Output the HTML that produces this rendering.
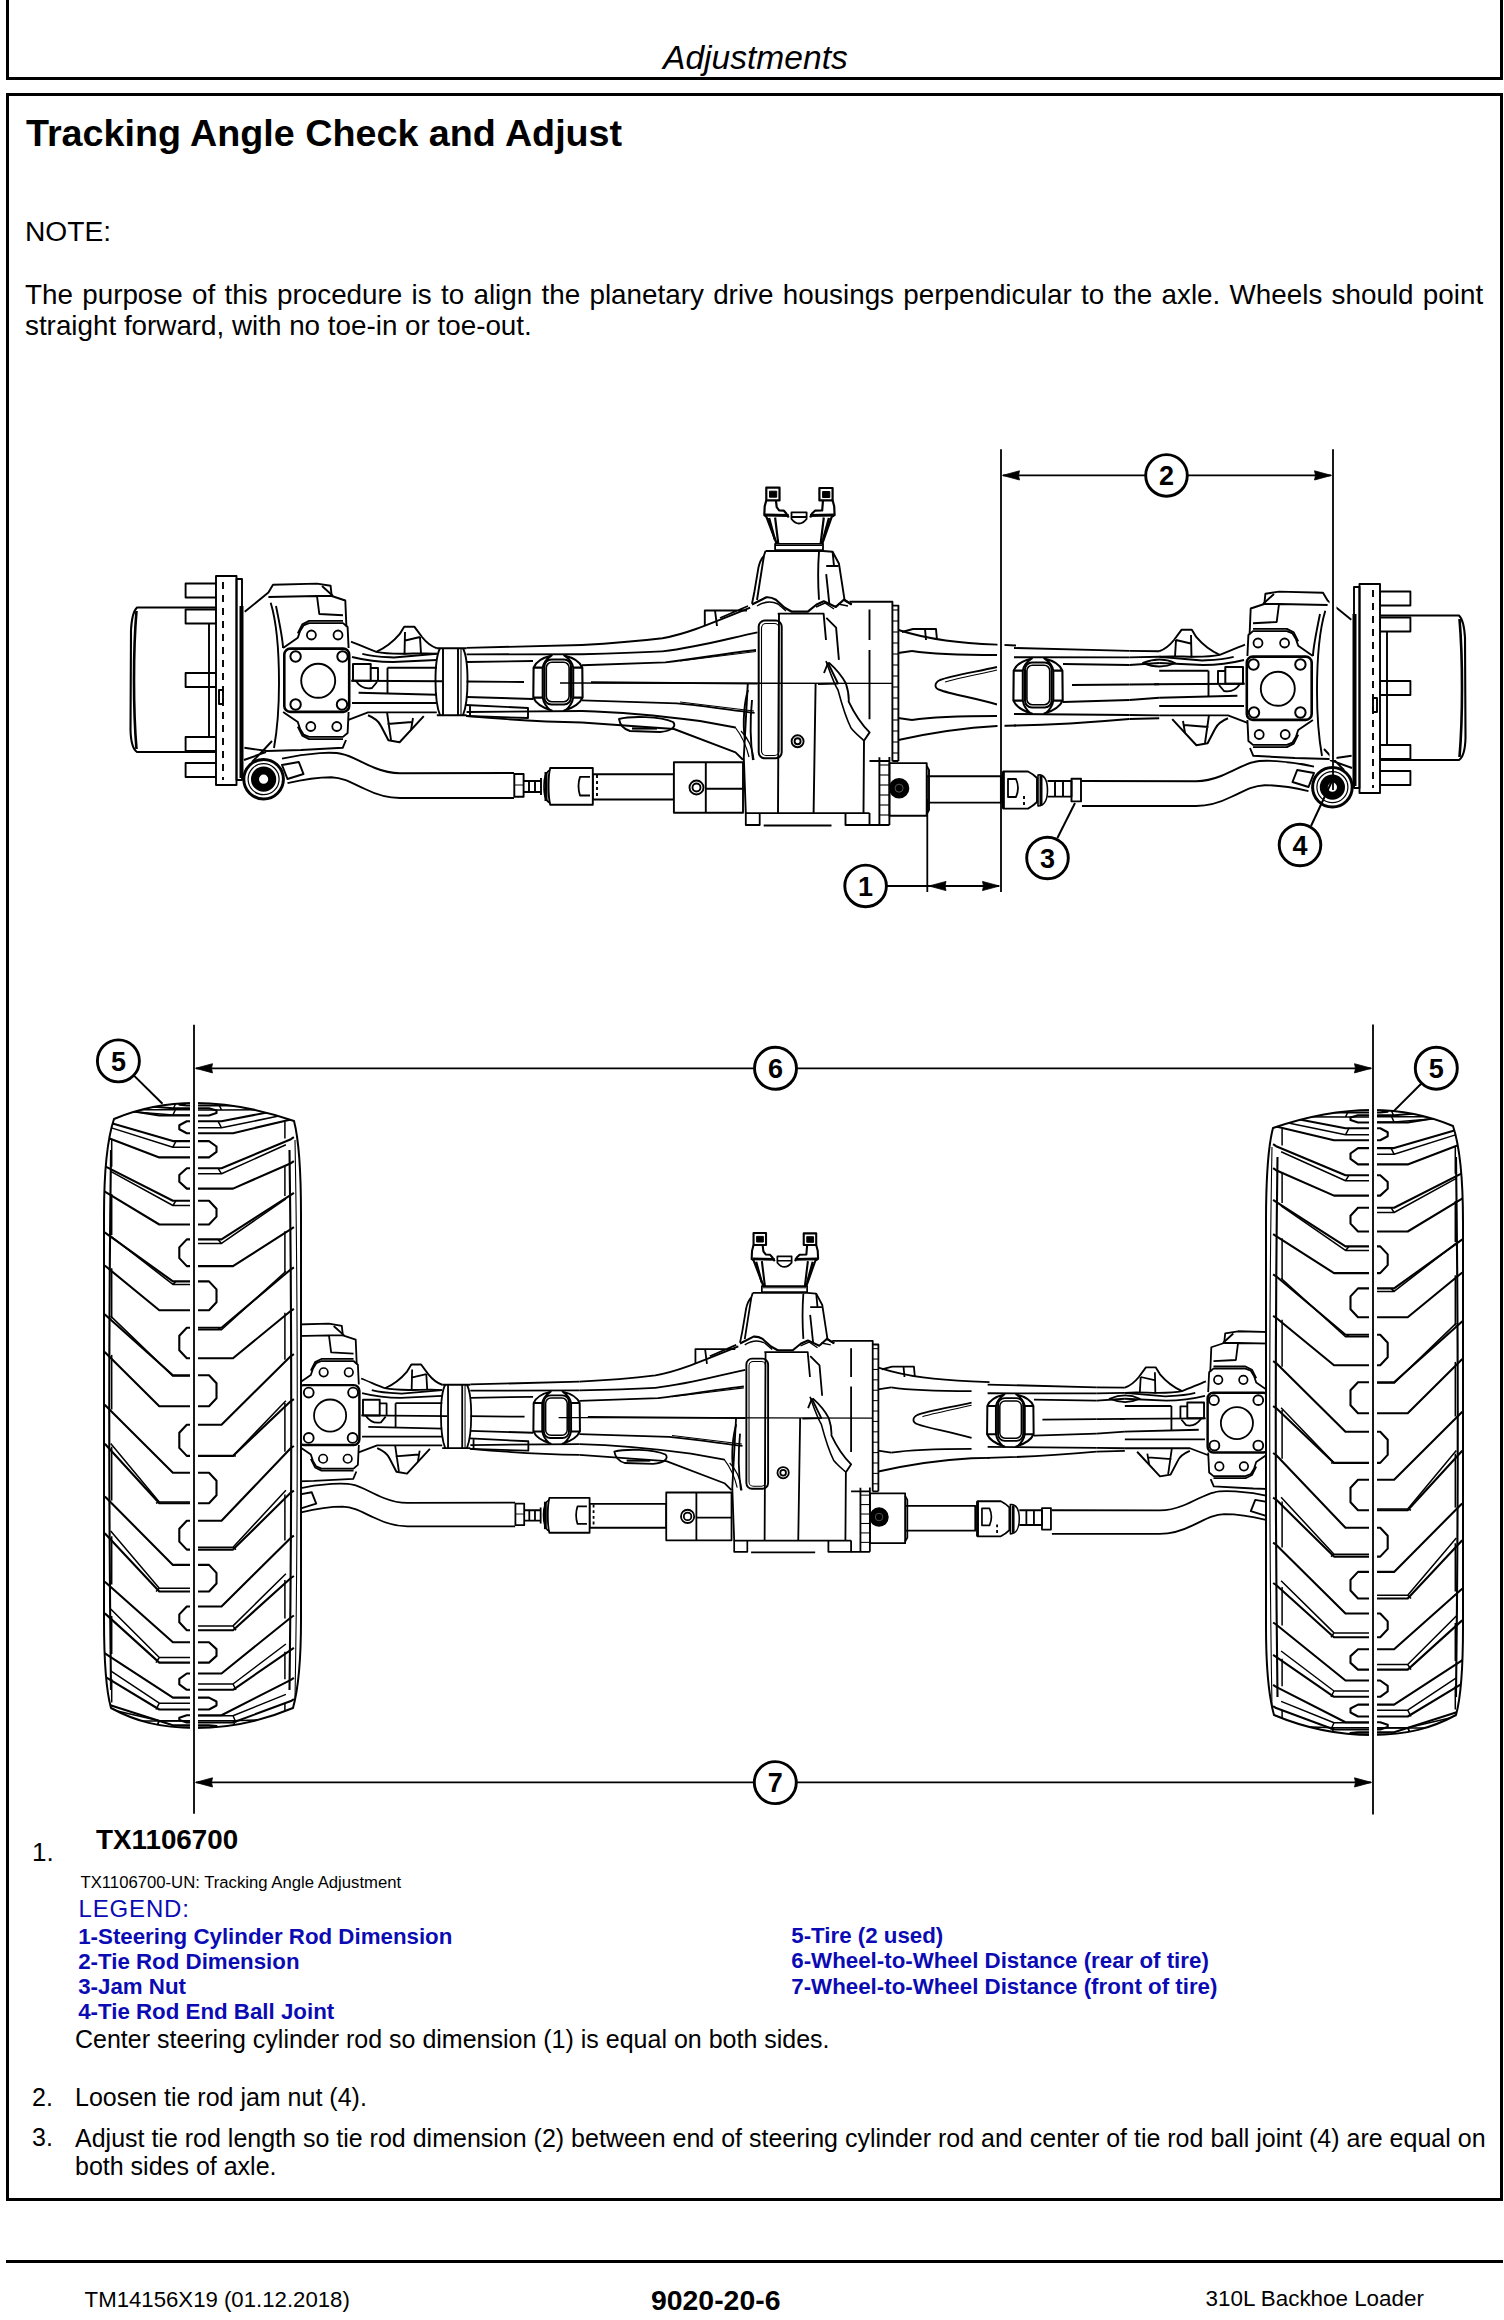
<!DOCTYPE html>
<html><head><meta charset="utf-8">
<style>
html,body{margin:0;padding:0;background:#fff;}
body{width:1504px;height:2320px;position:relative;overflow:hidden;font-family:"Liberation Sans",sans-serif;color:#000;}
.abs{position:absolute;white-space:nowrap;line-height:1;}
.hdr{position:absolute;left:6px;top:-10px;width:1491px;height:87px;border:3px solid #000;border-top:none;}
.box{position:absolute;left:6px;top:93px;width:1491px;height:2102px;border:3px solid #000;}
.fline{position:absolute;left:6px;top:2260px;width:1497px;height:3px;background:#000;}
.blue{color:#0b0bb4;}
svg{position:absolute;left:0;top:0;}
</style></head><body>
<div class="hdr"></div>
<div class="box"></div>
<div class="fline"></div>

<div class="abs" id="t-adj" style="left:663px;top:40.7px;font-size:33.6px;font-style:italic;">Adjustments</div>
<div class="abs" id="t-title" style="left:26px;top:114.6px;font-size:37.7px;font-weight:bold;">Tracking Angle Check and Adjust</div>
<div class="abs" id="t-note" style="left:25px;top:216.8px;font-size:28.2px;">NOTE:</div>
<div class="abs" id="t-p1" style="left:25px;top:280.6px;font-size:27.8px;word-spacing:1.6px;">The purpose of this procedure is to align the planetary drive housings perpendicular to the axle. Wheels should point</div>
<div class="abs" id="t-p2" style="left:25px;top:312.2px;font-size:27.8px;">straight forward, with no toe-in or toe-out.</div>

<div class="abs" id="t-1" style="left:32px;top:1838.8px;font-size:26px;">1.</div>
<div class="abs" id="t-tx" style="left:96px;top:1826.3px;font-size:27.8px;font-weight:bold;">TX1106700</div>
<div class="abs" id="t-cap" style="left:80.5px;top:1874.6px;font-size:16.7px;">TX1106700-UN: Tracking Angle Adjustment</div>
<div class="abs blue" id="t-leg" style="left:78.5px;top:1896.9px;font-size:24px;letter-spacing:0.85px;">LEGEND:</div>
<div class="abs blue" style="left:78.2px;top:1923.5px;font-size:22.3px;font-weight:bold;line-height:25.3px;">1-Steering Cylinder Rod Dimension<br>2-Tie Rod Dimension<br>3-Jam Nut<br>4-Tie Rod End Ball Joint</div>
<div class="abs blue" style="left:791.3px;top:1923px;font-size:22.3px;font-weight:bold;line-height:25.3px;">5-Tire (2 used)<br>6-Wheel-to-Wheel Distance (rear of tire)<br>7-Wheel-to-Wheel Distance (front of tire)</div>
<div class="abs" id="t-c" style="left:75px;top:2027.2px;font-size:25px;">Center steering cylinder rod so dimension (1) is equal on both sides.</div>
<div class="abs" style="left:32px;top:2084.7px;font-size:25px;">2.</div>
<div class="abs" style="left:75px;top:2084.7px;font-size:25px;">Loosen tie rod jam nut (4).</div>
<div class="abs" style="left:32px;top:2125.4px;font-size:25px;">3.</div>
<div class="abs" style="left:75px;top:2123.5px;font-size:25px;line-height:28.9px;">Adjust tie rod length so tie rod dimension (2) between end of steering cylinder rod and center of tie rod ball joint (4) are equal on<br>both sides of axle.</div>

<div class="abs" id="f1" style="left:84.6px;top:2289.1px;font-size:22.2px;">TM14156X19 (01.12.2018)</div>
<div class="abs" id="f2" style="left:651px;top:2285.9px;font-size:28.4px;font-weight:bold;">9020-20-6</div>
<div class="abs" id="f3" style="left:1205.6px;top:2288.4px;font-size:22.4px;">310L Backhoe Loader</div>

<svg id="fig" width="1504" height="2320" viewBox="0 0 1504 2320" fill="none" stroke="#000" stroke-width="1.9" stroke-linejoin="round" stroke-linecap="butt">
<path d="M215,607.5 L137,607.5 Q132,612 131,630 L130.5,730 Q131,748 137,752 L215,752" stroke-width="2.1"/>
<path d="M136.5,611 Q134,640 134,680 Q134,720 136.5,749" stroke-width="2.6"/>
<path d="M209,623 L209,736"/>
<rect x="185.6" y="583.5" width="30.4" height="14"/>
<rect x="185.6" y="609.5" width="30.4" height="14"/>
<rect x="185.6" y="673.0" width="30.4" height="14"/>
<rect x="185.6" y="737.0" width="30.4" height="14"/>
<rect x="185.6" y="763.0" width="30.4" height="14"/>
<rect x="216" y="576" width="20.5" height="209" fill="#fff"/>
<path d="M223,582 L223,780" stroke-dasharray="7,6"/>
<rect x="236.5" y="579" width="5.5" height="201"/>
<path d="M241.5,606 L241.5,778" stroke-width="4"/>
<rect x="219" y="690" width="4" height="14"/>
<path d="M244.7,611.8 L268.4,592.6 L273,584.7 L317,583.6 L330.6,585.8 L331.7,596 L345.3,600.5 L346.4,626.5"/>
<path d="M268.4,597 L317,596 L331.7,596 M317,596 L319.3,614 L343,615.2 M322,586 L333,596"/>
<path d="M270.7,602.8 Q279,630 279,683 Q279,720 274,748"/>
<path d="M276,606 Q283,640 283,648" />
<path d="M283.1,648 L297.8,637.8 L300.1,631 L303.5,625.4 L309.1,623.1 L343,623.1 L347.6,627 L348.6,648"/>
<path d="M297.8,633.3 L302.3,624.3 L309.1,620.9 L343,620.9"/>
<path d="M283.1,712 L297.8,722 L300.1,729 L303.5,734.6 L309.1,736.9 L343,736.9 L347.6,733 L348.6,712"/>
<path d="M297.8,726.7 L302.3,735.7 L309.1,739.1 L343,739.1"/>
<rect x="284.3" y="648.6" width="64.9" height="63.3" rx="6" stroke-width="2.6"/>
<circle cx="318.2" cy="680.8" r="17"/>
<circle cx="295.6" cy="656.5" r="5.2" stroke-width="2"/>
<circle cx="342.5" cy="656.5" r="5.2" stroke-width="2"/>
<circle cx="295.6" cy="704.5" r="5.2" stroke-width="2"/>
<circle cx="342" cy="704.5" r="5.2" stroke-width="2"/>
<circle cx="311.4" cy="635" r="4.5" stroke-width="1.8"/>
<circle cx="338" cy="635" r="4.5" stroke-width="1.8"/>
<circle cx="310.8" cy="726.5" r="4.5" stroke-width="1.8"/>
<circle cx="336.8" cy="726.5" r="4.5" stroke-width="1.8"/>
<path d="M244.4,747.8 L267,751 L301,750 L342.7,747.8 L346,740"/>
<g transform="translate(0,0)">
<path d="M282,758.6 C310,752 335,752 342,754 C352,756 360,762 375,768 C385,772 392,773.2 400,773.2 L514,773"/>
<path d="M287.5,783.2 C305,779 320,777.2 331.4,777.2 C345,778 352,783.2 365,789 C375,794 385,798 400,798 L514,798"/>
<path d="M282,765 L298.8,762 L303.5,774 L287.5,779 Z" stroke-width="2"/>
<circle cx="263.6" cy="779.2" r="19.8" stroke-width="3" fill="#fff"/>
<circle cx="263.6" cy="779.2" r="8.6" stroke-width="8"/>
<circle cx="263.6" cy="779.2" r="15.5" stroke-width="1.2"/>
<path d="M266,752 L244,760 M272,741 Q262,752 252,762" />
</g>
<path d="M376.3,651.9 C385,648 393,642 399.6,634.2 L404.2,626.8 L414.5,626.8 L422,637 C426,642 430,646 436.8,648.2" stroke-width="2"/>
<path d="M405,632 L404.5,654.7 M420,637 L421,653.8 M404.2,640.7 L420,637"/>
<path d="M368,715.2 C375,718 379,721.7 381,726 L388.4,740.3 L399.6,742.2 L423.8,716.1" stroke-width="2"/>
<path d="M387,712 L391,740 M413,718 L411,730 M387.5,724 L412,722"/>
<path d="M351,641.6 C360,645 368,649 376.3,651.9 C395,656 420,652 436.8,653.8"/>
<path d="M362.3,653.8 C375,657 385,657 394,657.5 L436.8,653.8"/>
<path d="M352,657 C368,661 380,662 393,662 L436.8,660"/>
<path d="M387.5,667.7 L436.8,667.7 M387.5,667.7 L387.5,693.8"/>
<path d="M351.2,680.7 L442,681.3"/>
<path d="M358.6,692.8 L436.8,694.7 M352,703 L436.8,703"/>
<path d="M348.4,719.8 L368,712.4 L436.8,712.4"/>
<rect x="353" y="664" width="17.7" height="16.7" stroke-width="2"/>
<path d="M370.7,668 L378,668 L378,680.7"/>
<path d="M356,681 Q362,690 372,688 L377,682"/>
<path d="M551.7,655.5 Q537,659 533.6,667.6 L533.3,697.6 Q537,706 551.7,710.6 L550.6,710.6 Q544,705 542.7,697.6 L542.7,667.6 Q544,661 551.2,655.7 Z M533.6,667.6 L542.7,667.6 M533.3,697.6 L542.7,697.6" stroke-width="2.1"/>
<g transform="translate(1115.9,0) scale(-1,1)"><path d="M551.7,655.5 Q537,659 533.6,667.6 L533.3,697.6 Q537,706 551.7,710.6 L550.6,710.6 Q544,705 542.7,697.6 L542.7,667.6 Q544,661 551.2,655.7 Z M533.6,667.6 L542.7,667.6 M533.3,697.6 L542.7,697.6" stroke-width="2.1"/></g>
<rect x="544.4" y="659.4" width="26.6" height="45.2" rx="7" stroke-width="2"/>
<rect x="546.3" y="662.3" width="22.8" height="39.4" rx="5.5" stroke-width="1.6"/>
<path d="M436.8,648.2 L466.6,648.2 M436.8,715.2 L466.6,715.2"/>
<path d="M440,648.2 C434,660 434,700 440,715.2 M443,648.2 L443,715.2 M458,648.2 L458,715.2 M463,648.2 C469,660 469,700 463,715.2" />
<path d="M461,648.2 L461,715.2" stroke-width="1.1"/>
<path d="M466.6,647.9 L582,645 M466.6,654.4 L582,654.2 M466.6,662 L533,661 M466.6,681.5 L524,682 M466.6,697 L533,699 M466.6,712 L582,711 M466.6,716 C500,719 530,721.7 582,722.5"/>
<path d="M466,705 L528,708 L528,718 L466,716 M470,705.5 L470,716"/>
<path d="M582,645 C620,643 640,641 662.4,638.3 C685,634 700,628 750.2,607.6"/>
<path d="M582,654.2 C630,653 640,652.5 662.4,651.4 C700,647 730,638 757.5,632.4"/>
<path d="M582,665.3 L665.3,662.4 C700,658 730,653 756,650"/>
<path d="M680,661 L756,651.5" stroke-width="1.1"/>
<path d="M591,682.3 L757.5,683.6"/>
<path d="M582,700.4 L677,703.4 C705,706 730,710 754.6,712.9"/>
<path d="M680,702 L754,711" stroke-width="1.1"/>
<path d="M582,711 C620,712 662,716 700,721 L735.5,727.5"/>
<path d="M582,722.5 C590,723 618.5,725.3 674,729 L735.5,752.4 L743,759.7"/>
<path d="M619,719 C630,716 660,716 673,722 C677,726 672,731 660,732 L630,731 C623,729 620,725 619,719 Z"/>
<path d="M632,728.5 L657,728.5" stroke-width="2.2"/>
<path d="M704.8,626 L704.8,610.5 L747,610.5 M715,610.5 L717,626 M720,618 L748,606"/>
<path d="M735,727 Q745,740 749,757 M741,731 Q752,742 754,760" stroke-width="1.2"/>
<rect x="592.8" y="774.2" width="81.1" height="25.3"/>
<path d="M550.2,768 L592.8,768 L592.8,804.8 L550.2,804.8 C548,796 548,776 550.2,768 Z" fill="#fff"/>
<path d="M590,776.9 L580,776.9 Q577,786 580,795.5 L590,795.5" stroke-width="1.8"/>
<path d="M597,775 L597,799" stroke-dasharray="3,3"/>
<path d="M550,770 C545,772 544,778 544,786 C544,795 545,801 550,803" stroke-width="1.6"/>
<path d="M546,772 L546,801" stroke-width="3"/>
<path d="M541,778 L541,795 M523.6,781 L541,781 L541,792 L523.6,792 M529,781 L529,792 M535,781 L535,792"/>
<rect x="514.3" y="774" width="9.3" height="22.8"/>
<path d="M514.3,785 L523.6,785" stroke-width="1"/>
<g transform="translate(1596,8) scale(-1,1)">
<path d="M215,607.5 L137,607.5 Q132,612 131,630 L130.5,730 Q131,748 137,752 L215,752" stroke-width="2.1"/>
<path d="M136.5,611 Q134,640 134,680 Q134,720 136.5,749" stroke-width="2.6"/>
<path d="M209,623 L209,736"/>
<rect x="185.6" y="583.5" width="30.4" height="14"/>
<rect x="185.6" y="609.5" width="30.4" height="14"/>
<rect x="185.6" y="673.0" width="30.4" height="14"/>
<rect x="185.6" y="737.0" width="30.4" height="14"/>
<rect x="185.6" y="763.0" width="30.4" height="14"/>
<rect x="216" y="576" width="20.5" height="209" fill="#fff"/>
<path d="M223,582 L223,780" stroke-dasharray="7,6"/>
<rect x="236.5" y="579" width="5.5" height="201"/>
<path d="M241.5,606 L241.5,778" stroke-width="4"/>
<rect x="219" y="690" width="4" height="14"/>
<path d="M244.7,611.8 L268.4,592.6 L273,584.7 L317,583.6 L330.6,585.8 L331.7,596 L345.3,600.5 L346.4,626.5"/>
<path d="M268.4,597 L317,596 L331.7,596 M317,596 L319.3,614 L343,615.2 M322,586 L333,596"/>
<path d="M270.7,602.8 Q279,630 279,683 Q279,720 274,748"/>
<path d="M276,606 Q283,640 283,648" />
<path d="M283.1,648 L297.8,637.8 L300.1,631 L303.5,625.4 L309.1,623.1 L343,623.1 L347.6,627 L348.6,648"/>
<path d="M297.8,633.3 L302.3,624.3 L309.1,620.9 L343,620.9"/>
<path d="M283.1,712 L297.8,722 L300.1,729 L303.5,734.6 L309.1,736.9 L343,736.9 L347.6,733 L348.6,712"/>
<path d="M297.8,726.7 L302.3,735.7 L309.1,739.1 L343,739.1"/>
<rect x="284.3" y="648.6" width="64.9" height="63.3" rx="6" stroke-width="2.6"/>
<circle cx="318.2" cy="680.8" r="17"/>
<circle cx="295.6" cy="656.5" r="5.2" stroke-width="2"/>
<circle cx="342.5" cy="656.5" r="5.2" stroke-width="2"/>
<circle cx="295.6" cy="704.5" r="5.2" stroke-width="2"/>
<circle cx="342" cy="704.5" r="5.2" stroke-width="2"/>
<circle cx="311.4" cy="635" r="4.5" stroke-width="1.8"/>
<circle cx="338" cy="635" r="4.5" stroke-width="1.8"/>
<circle cx="310.8" cy="726.5" r="4.5" stroke-width="1.8"/>
<circle cx="336.8" cy="726.5" r="4.5" stroke-width="1.8"/>
<path d="M244.4,747.8 L267,751 L301,750 L342.7,747.8 L346,740"/>
<g transform="translate(0,0)">
<path d="M282,758.6 C310,752 335,752 342,754 C352,756 360,762 375,768 C385,772 392,773.2 400,773.2 L514,773"/>
<path d="M287.5,783.2 C305,779 320,777.2 331.4,777.2 C345,778 352,783.2 365,789 C375,794 385,798 400,798 L514,798"/>
<path d="M282,765 L298.8,762 L303.5,774 L287.5,779 Z" stroke-width="2"/>
<circle cx="263.6" cy="779.2" r="19.8" stroke-width="3" fill="#fff"/>
<circle cx="263.6" cy="779.2" r="8.6" stroke-width="8"/>
<circle cx="263.6" cy="779.2" r="15.5" stroke-width="1.2"/>
<path d="M266,752 L244,760 M272,741 Q262,752 252,762" />
</g>
</g>
<g transform="translate(1596,3) scale(-1,1)">
<path d="M376.3,651.9 C385,648 393,642 399.6,634.2 L404.2,626.8 L414.5,626.8 L422,637 C426,642 430,646 436.8,648.2" stroke-width="2"/>
<path d="M405,632 L404.5,654.7 M420,637 L421,653.8 M404.2,640.7 L420,637"/>
<path d="M368,715.2 C375,718 379,721.7 381,726 L388.4,740.3 L399.6,742.2 L423.8,716.1" stroke-width="2"/>
<path d="M387,712 L391,740 M413,718 L411,730 M387.5,724 L412,722"/>
<path d="M351,641.6 C360,645 368,649 376.3,651.9 C395,656 420,652 436.8,653.8"/>
<path d="M362.3,653.8 C375,657 385,657 394,657.5 L436.8,653.8"/>
<path d="M352,657 C368,661 380,662 393,662 L436.8,660"/>
<path d="M387.5,667.7 L436.8,667.7 M387.5,667.7 L387.5,693.8"/>
<path d="M351.2,680.7 L442,681.3"/>
<path d="M358.6,692.8 L436.8,694.7 M352,703 L436.8,703"/>
<path d="M348.4,719.8 L368,712.4 L436.8,712.4"/>
<rect x="353" y="664" width="17.7" height="16.7" stroke-width="2"/>
<path d="M370.7,668 L378,668 L378,680.7"/>
<path d="M356,681 Q362,690 372,688 L377,682"/>
<path d="M551.7,655.5 Q537,659 533.6,667.6 L533.3,697.6 Q537,706 551.7,710.6 L550.6,710.6 Q544,705 542.7,697.6 L542.7,667.6 Q544,661 551.2,655.7 Z M533.6,667.6 L542.7,667.6 M533.3,697.6 L542.7,697.6" stroke-width="2.1"/>
<g transform="translate(1115.9,0) scale(-1,1)"><path d="M551.7,655.5 Q537,659 533.6,667.6 L533.3,697.6 Q537,706 551.7,710.6 L550.6,710.6 Q544,705 542.7,697.6 L542.7,667.6 Q544,661 551.2,655.7 Z M533.6,667.6 L542.7,667.6 M533.3,697.6 L542.7,697.6" stroke-width="2.1"/></g>
<rect x="544.4" y="659.4" width="26.6" height="45.2" rx="7" stroke-width="2"/>
<rect x="546.3" y="662.3" width="22.8" height="39.4" rx="5.5" stroke-width="1.6"/>
<path d="M466.6,647.9 L582,645 M466.6,654.4 L582,654.2 M466.6,662 L533,661 M466.6,681.5 L524,682 M466.6,697 L533,699 M466.6,712 L582,711 M466.6,716 C500,719 530,721.7 582,722.5"/>
<path d="M436.8,648.2 L466.6,647.9 M436.8,653.8 L466.6,654.4 M436.8,660 L466.6,662 M436.8,681.3 L466.6,681.5 M436.8,694.7 L466.6,697 M436.8,712.4 L466.6,712 M436.8,715.2 L466.6,716"/>
</g>
<path d="M997,667 C975,672 950,676 940,680 C934,683 934,688 940,690 C950,694 975,698 997,704.5"/>
<path d="M997,670 C975,675 955,679 945,682" stroke-width="1.1"/>
<path d="M898.4,630 C930,640 960,643 997,644.6 L1016,645.5"/>
<path d="M898.4,740 C930,733 960,728 997,726 L1016,725.5"/>
<path d="M902,632 L913,629 L936,629 L937,640 M925,629 L926,640" />
<path d="M912,651 C925,653 960,655 997,655 M912,720 C925,718 960,716 997,716" />
<path d="M898,653 L912,651 M898,718 L912,720"/>
<path d="M1143,663 Q1160,656 1175,663 Q1160,670 1143,663 Z"/>
<rect x="926.7" y="776.3" width="74.2" height="26.3" fill="#fff"/>
<path d="M1003.3,771.5 L1028,771.5 Q1033,774 1037,778 L1037,802 Q1033,806 1028,808.6 L1003.3,808.6 Z" fill="#fff"/>
<path d="M1003.3,771.5 L1003.3,808.6" stroke-width="3"/>
<path d="M1008,779 L1016,779 Q1020,788 1016,797 L1008,797 Z" stroke-width="1.8"/>
<path d="M1024,796 L1024,808" stroke-dasharray="3,3"/>
<path d="M1038,775 C1044,774 1047.5,780 1047.5,790 C1047.5,800 1044,806 1038,806 Z" stroke-width="1.6"/>
<path d="M1041,776 L1041,805" stroke-width="3"/>
<path d="M1047.5,781 L1071.5,781 L1071.5,796.6 L1047.5,796.6 M1055,781 L1055,796.6 M1063,781 L1063,796.6"/>
<rect x="1071.5" y="778.7" width="9.5" height="22.7"/>
<rect x="766.3" y="487.6" width="13.2" height="12.8" stroke-width="2.2"/><rect x="769.5" y="491.2" width="7.2" height="6" fill="#000" stroke-width="1"/>
<rect x="819.4" y="488" width="13.2" height="12.4" stroke-width="2.2"/><rect x="822.6" y="491.5" width="7.2" height="6" fill="#000" stroke-width="1"/>
<path d="M766.3,500.4 L764.7,506.3 L764.3,515.1 L766.3,516.7 L776.7,543.8 M775.9,500.4 L776.7,507.1 L779.1,510.3 L783.9,510.7 L786.3,513.5 L788.7,517.5 M775.1,517.5 L778.3,543.8" stroke-width="2.2"/>
<path d="M832.6,500.4 L834.2,506.3 L834.6,515.1 L831.8,516.7 L822.2,543.8 M823,500.4 L822.2,510.3 L815,510.7 L812,513.5 L810.2,517.5 M823.8,517.5 L820.6,543.8" stroke-width="2.2"/>
<path d="M765,515 L788.7,515.5 M810,515.5 L834,515" stroke-width="3"/>
<path d="M769,518 L775,540 M829,518 L823,540" stroke-width="2.5"/>
<path d="M791.5,512.3 L806.6,512.3 L806.6,519 Q803,523.5 799,523.5 Q795,523.5 791.5,519 Z M792,517 L806,517" stroke-width="1.8"/>
<rect x="775.1" y="543.8" width="47.9" height="6.4" stroke-width="1.8"/>
<path d="M776,545.5 L822,545.5" stroke-width="1.2"/>
<path d="M765.5,551 L823,551 L832.6,551.8 L839,563.8 L844.5,599.7 L851.7,604.5"/>
<path d="M765.5,551 L763.9,555.8 C760,560 758.4,567.8 758.4,567.8 L754.4,591.7 L752,603.7"/>
<path d="M763.9,556 L757,600 M819,551.8 C818,565 818,585 819,599.7 M826.2,574.2 L829.4,604.5 M826.2,566 L838.6,566 M832.6,551.8 L834,566"/>
<path d="M752,604.5 L766.3,597.3 C770,597 773,598 775.9,599.7 L784.7,607.7 L791.9,611.7 L807.8,611.7 L816.6,604.5 L823.8,601.3 L835.8,606.9 L843.8,599.7 L851.7,604.5" stroke-width="2.2"/>
<path d="M757,606 C765,601 772,601 778,604 L786,611 M816,607 L825,603 L834,609 M838,604 L848,606" stroke-width="1.4"/>
<path d="M849.5,601.7 L892.4,601.7 L892.4,761.2"/>
<path d="M869.5,609.6 L869.5,640 M869.5,650 L869.5,719.3"/>
<path d="M892.4,605.6 L898.4,605.6 L898.4,761 M892.4,761 L898.4,761"/>
<path d="M892.4,610 L898.4,610" stroke-width="1.1"/>
<path d="M892.4,621 L898.4,621" stroke-width="1.1"/>
<path d="M892.4,632 L898.4,632" stroke-width="1.1"/>
<path d="M892.4,643 L898.4,643" stroke-width="1.1"/>
<path d="M892.4,654 L898.4,654" stroke-width="1.1"/>
<path d="M892.4,665 L898.4,665" stroke-width="1.1"/>
<path d="M892.4,676 L898.4,676" stroke-width="1.1"/>
<path d="M892.4,687 L898.4,687" stroke-width="1.1"/>
<path d="M892.4,698 L898.4,698" stroke-width="1.1"/>
<path d="M892.4,709 L898.4,709" stroke-width="1.1"/>
<path d="M892.4,720 L898.4,720" stroke-width="1.1"/>
<path d="M892.4,731 L898.4,731" stroke-width="1.1"/>
<path d="M892.4,742 L898.4,742" stroke-width="1.1"/>
<path d="M892.4,753 L898.4,753" stroke-width="1.1"/>
<path d="M747.8,683.4 L743.8,757.2 L745.8,813.1 L869.5,813.1"/>
<path d="M560,683 L892,683.4" stroke-width="1.3"/>
<rect x="758.7" y="620.6" width="23" height="137.7" rx="6" stroke-width="2"/>
<rect x="761.5" y="623.5" width="17.4" height="132" rx="4.5" stroke-width="1.1"/>
<path d="M777.7,613.6 L823.6,613.6 L826,640 M779,613.6 L778,813 M815.6,683.4 L813.6,813.1"/>
<path d="M826.3,617.9 L836.1,627.7 L838.9,659.8 M828.9,662.6 C835,668 842,676 845.9,683.5 C848,690 849,697 848.7,701.7 C855,715 862,725 869.6,732.4 L864,740.8 L863.5,813.1" />
<path d="M826,661 C830,672 834,684 838,690 C842,705 846,718 851,728 C855,733 860,737 864,740.8" stroke-width="1.6"/>
<path d="M824,673 L828,663 L838,683.5 L818,684"/>
<path d="M748,690 C745,700 742,720 745,740 M752,700 C750,720 750,740 753,760"/>
<circle cx="797.6" cy="741.3" r="6"/><circle cx="797.6" cy="741.3" r="3"/>
<path d="M745.8,813.1 L745.8,825 L759.7,825 L759.7,813.1 M763.7,825.5 L831.5,825.5" stroke-width="1.8"/>
<path d="M845.5,813.1 L845.5,825 L869.5,825 L869.5,813.1"/>
<path d="M869.5,761 L889.4,761 M879.4,757.2 L879.4,825 M889.4,757 L889.4,825 M869.5,825 L889.4,825"/>
<path d="M879.4,765 L889.4,765" stroke-width="1.1"/>
<path d="M879.4,775 L889.4,775" stroke-width="1.1"/>
<path d="M879.4,785 L889.4,785" stroke-width="1.1"/>
<path d="M879.4,795 L889.4,795" stroke-width="1.1"/>
<path d="M879.4,805 L889.4,805" stroke-width="1.1"/>
<path d="M879.4,815 L889.4,815" stroke-width="1.1"/>
<rect x="673.9" y="762.2" width="69.1" height="50.6" fill="#fff"/>
<path d="M705.8,762.2 L705.8,812.8 M705.8,788.8 L743,788.8"/>
<circle cx="696.5" cy="787.5" r="7"/><circle cx="696.5" cy="787.5" r="4"/>
<rect x="889.6" y="763.1" width="37.1" height="52.7" fill="#fff"/>
<path d="M926.7,766 L929,770 L929,810 L926.7,814" />
<circle cx="899.1" cy="788.2" r="9.3" fill="#000"/><circle cx="899.1" cy="788.2" r="4" stroke="#555" stroke-width="1"/>
<rect x="997.5" y="600" width="7" height="160" fill="#fff" stroke="none"/>
<rect x="1329.5" y="585" width="7" height="175" fill="#fff" stroke="none"/>
<path d="M1001,449.3 L1001,892 M1333,449.3 L1333,790" stroke-width="1.8"/>
<path d="M1003,475.4 L1146,475.4 M1187,475.4 L1331,475.4" stroke-width="1.8"/>
<path d="M1002.5,475.4 L1019.5,470.79999999999995 L1018.5,475.4 L1019.5,480.0 Z" fill="#000" stroke="#000" stroke-width="0.8"/>
<path d="M1331.5,475.4 L1314.5,470.79999999999995 L1315.5,475.4 L1314.5,480.0 Z" fill="#000" stroke="#000" stroke-width="0.8"/>
<circle cx="1166.5" cy="475.4" r="20.8" stroke-width="2.9" fill="#fff"/>
<text x="1166.5" y="485.0" text-anchor="middle" font-family="Liberation Sans" font-weight="bold" font-size="27" fill="#000" stroke="none">2</text>
<path d="M927.3,799 L927.3,892" stroke-width="1.8"/>
<path d="M886.5,886 L999,886" stroke-width="1.8"/>
<path d="M929,886 L946,881.4 L945,886 L946,890.6 Z" fill="#000" stroke="#000" stroke-width="0.8"/>
<path d="M999.5,886 L982.5,881.4 L983.5,886 L982.5,890.6 Z" fill="#000" stroke="#000" stroke-width="0.8"/>
<circle cx="865.6" cy="885.9" r="20.8" stroke-width="2.9" fill="#fff"/>
<text x="865.6" y="895.5" text-anchor="middle" font-family="Liberation Sans" font-weight="bold" font-size="27" fill="#000" stroke="none">1</text>
<path d="M1057.4,838 L1075,803" stroke-width="2"/>
<circle cx="1047.5" cy="858" r="20.8" stroke-width="2.9" fill="#fff"/>
<text x="1047.5" y="867.6" text-anchor="middle" font-family="Liberation Sans" font-weight="bold" font-size="27" fill="#000" stroke="none">3</text>
<path d="M1311,826 L1332,781" stroke-width="2"/>
<circle cx="1300" cy="845" r="20.8" stroke-width="2.9" fill="#fff"/>
<text x="1300" y="854.6" text-anchor="middle" font-family="Liberation Sans" font-weight="bold" font-size="27" fill="#000" stroke="none">4</text>
<g transform="translate(29.4,772.2) scale(0.945)">
<path d="M244.7,611.8 L268.4,592.6 L273,584.7 L317,583.6 L330.6,585.8 L331.7,596 L345.3,600.5 L346.4,626.5"/>
<path d="M268.4,597 L317,596 L331.7,596 M317,596 L319.3,614 L343,615.2 M322,586 L333,596"/>
<path d="M270.7,602.8 Q279,630 279,683 Q279,720 274,748"/>
<path d="M276,606 Q283,640 283,648" />
<path d="M283.1,648 L297.8,637.8 L300.1,631 L303.5,625.4 L309.1,623.1 L343,623.1 L347.6,627 L348.6,648"/>
<path d="M297.8,633.3 L302.3,624.3 L309.1,620.9 L343,620.9"/>
<path d="M283.1,712 L297.8,722 L300.1,729 L303.5,734.6 L309.1,736.9 L343,736.9 L347.6,733 L348.6,712"/>
<path d="M297.8,726.7 L302.3,735.7 L309.1,739.1 L343,739.1"/>
<rect x="284.3" y="648.6" width="64.9" height="63.3" rx="6" stroke-width="2.6"/>
<circle cx="318.2" cy="680.8" r="17"/>
<circle cx="295.6" cy="656.5" r="5.2" stroke-width="2"/>
<circle cx="342.5" cy="656.5" r="5.2" stroke-width="2"/>
<circle cx="295.6" cy="704.5" r="5.2" stroke-width="2"/>
<circle cx="342" cy="704.5" r="5.2" stroke-width="2"/>
<circle cx="311.4" cy="635" r="4.5" stroke-width="1.8"/>
<circle cx="338" cy="635" r="4.5" stroke-width="1.8"/>
<circle cx="310.8" cy="726.5" r="4.5" stroke-width="1.8"/>
<circle cx="336.8" cy="726.5" r="4.5" stroke-width="1.8"/>
<path d="M244.4,747.8 L267,751 L301,750 L342.7,747.8 L346,740"/>
<g transform="translate(0,0)">
<path d="M282,758.6 C310,752 335,752 342,754 C352,756 360,762 375,768 C385,772 392,773.2 400,773.2 L514,773"/>
<path d="M287.5,783.2 C305,779 320,777.2 331.4,777.2 C345,778 352,783.2 365,789 C375,794 385,798 400,798 L514,798"/>
<path d="M282,765 L298.8,762 L303.5,774 L287.5,779 Z" stroke-width="2"/>
<circle cx="263.6" cy="779.2" r="19.8" stroke-width="3" fill="#fff"/>
<circle cx="263.6" cy="779.2" r="8.6" stroke-width="8"/>
<circle cx="263.6" cy="779.2" r="15.5" stroke-width="1.2"/>
<path d="M266,752 L244,760 M272,741 Q262,752 252,762" />
</g>
<path d="M376.3,651.9 C385,648 393,642 399.6,634.2 L404.2,626.8 L414.5,626.8 L422,637 C426,642 430,646 436.8,648.2" stroke-width="2"/>
<path d="M405,632 L404.5,654.7 M420,637 L421,653.8 M404.2,640.7 L420,637"/>
<path d="M368,715.2 C375,718 379,721.7 381,726 L388.4,740.3 L399.6,742.2 L423.8,716.1" stroke-width="2"/>
<path d="M387,712 L391,740 M413,718 L411,730 M387.5,724 L412,722"/>
<path d="M351,641.6 C360,645 368,649 376.3,651.9 C395,656 420,652 436.8,653.8"/>
<path d="M362.3,653.8 C375,657 385,657 394,657.5 L436.8,653.8"/>
<path d="M352,657 C368,661 380,662 393,662 L436.8,660"/>
<path d="M387.5,667.7 L436.8,667.7 M387.5,667.7 L387.5,693.8"/>
<path d="M351.2,680.7 L442,681.3"/>
<path d="M358.6,692.8 L436.8,694.7 M352,703 L436.8,703"/>
<path d="M348.4,719.8 L368,712.4 L436.8,712.4"/>
<rect x="353" y="664" width="17.7" height="16.7" stroke-width="2"/>
<path d="M370.7,668 L378,668 L378,680.7"/>
<path d="M356,681 Q362,690 372,688 L377,682"/>
<path d="M551.7,655.5 Q537,659 533.6,667.6 L533.3,697.6 Q537,706 551.7,710.6 L550.6,710.6 Q544,705 542.7,697.6 L542.7,667.6 Q544,661 551.2,655.7 Z M533.6,667.6 L542.7,667.6 M533.3,697.6 L542.7,697.6" stroke-width="2.1"/>
<g transform="translate(1115.9,0) scale(-1,1)"><path d="M551.7,655.5 Q537,659 533.6,667.6 L533.3,697.6 Q537,706 551.7,710.6 L550.6,710.6 Q544,705 542.7,697.6 L542.7,667.6 Q544,661 551.2,655.7 Z M533.6,667.6 L542.7,667.6 M533.3,697.6 L542.7,697.6" stroke-width="2.1"/></g>
<rect x="544.4" y="659.4" width="26.6" height="45.2" rx="7" stroke-width="2"/>
<rect x="546.3" y="662.3" width="22.8" height="39.4" rx="5.5" stroke-width="1.6"/>
<path d="M436.8,648.2 L466.6,648.2 M436.8,715.2 L466.6,715.2"/>
<path d="M440,648.2 C434,660 434,700 440,715.2 M443,648.2 L443,715.2 M458,648.2 L458,715.2 M463,648.2 C469,660 469,700 463,715.2" />
<path d="M461,648.2 L461,715.2" stroke-width="1.1"/>
<path d="M466.6,647.9 L582,645 M466.6,654.4 L582,654.2 M466.6,662 L533,661 M466.6,681.5 L524,682 M466.6,697 L533,699 M466.6,712 L582,711 M466.6,716 C500,719 530,721.7 582,722.5"/>
<path d="M466,705 L528,708 L528,718 L466,716 M470,705.5 L470,716"/>
<path d="M582,645 C620,643 640,641 662.4,638.3 C685,634 700,628 750.2,607.6"/>
<path d="M582,654.2 C630,653 640,652.5 662.4,651.4 C700,647 730,638 757.5,632.4"/>
<path d="M582,665.3 L665.3,662.4 C700,658 730,653 756,650"/>
<path d="M680,661 L756,651.5" stroke-width="1.1"/>
<path d="M591,682.3 L757.5,683.6"/>
<path d="M582,700.4 L677,703.4 C705,706 730,710 754.6,712.9"/>
<path d="M680,702 L754,711" stroke-width="1.1"/>
<path d="M582,711 C620,712 662,716 700,721 L735.5,727.5"/>
<path d="M582,722.5 C590,723 618.5,725.3 674,729 L735.5,752.4 L743,759.7"/>
<path d="M619,719 C630,716 660,716 673,722 C677,726 672,731 660,732 L630,731 C623,729 620,725 619,719 Z"/>
<path d="M632,728.5 L657,728.5" stroke-width="2.2"/>
<path d="M704.8,626 L704.8,610.5 L747,610.5 M715,610.5 L717,626 M720,618 L748,606"/>
<path d="M735,727 Q745,740 749,757 M741,731 Q752,742 754,760" stroke-width="1.2"/>
<rect x="592.8" y="774.2" width="81.1" height="25.3"/>
<path d="M550.2,768 L592.8,768 L592.8,804.8 L550.2,804.8 C548,796 548,776 550.2,768 Z" fill="#fff"/>
<path d="M590,776.9 L580,776.9 Q577,786 580,795.5 L590,795.5" stroke-width="1.8"/>
<path d="M597,775 L597,799" stroke-dasharray="3,3"/>
<path d="M550,770 C545,772 544,778 544,786 C544,795 545,801 550,803" stroke-width="1.6"/>
<path d="M546,772 L546,801" stroke-width="3"/>
<path d="M541,778 L541,795 M523.6,781 L541,781 L541,792 L523.6,792 M529,781 L529,792 M535,781 L535,792"/>
<rect x="514.3" y="774" width="9.3" height="22.8"/>
<path d="M514.3,785 L523.6,785" stroke-width="1"/>
<g transform="translate(1596,8) scale(-1,1)">
<path d="M244.7,611.8 L268.4,592.6 L273,584.7 L317,583.6 L330.6,585.8 L331.7,596 L345.3,600.5 L346.4,626.5"/>
<path d="M268.4,597 L317,596 L331.7,596 M317,596 L319.3,614 L343,615.2 M322,586 L333,596"/>
<path d="M270.7,602.8 Q279,630 279,683 Q279,720 274,748"/>
<path d="M276,606 Q283,640 283,648" />
<path d="M283.1,648 L297.8,637.8 L300.1,631 L303.5,625.4 L309.1,623.1 L343,623.1 L347.6,627 L348.6,648"/>
<path d="M297.8,633.3 L302.3,624.3 L309.1,620.9 L343,620.9"/>
<path d="M283.1,712 L297.8,722 L300.1,729 L303.5,734.6 L309.1,736.9 L343,736.9 L347.6,733 L348.6,712"/>
<path d="M297.8,726.7 L302.3,735.7 L309.1,739.1 L343,739.1"/>
<rect x="284.3" y="648.6" width="64.9" height="63.3" rx="6" stroke-width="2.6"/>
<circle cx="318.2" cy="680.8" r="17"/>
<circle cx="295.6" cy="656.5" r="5.2" stroke-width="2"/>
<circle cx="342.5" cy="656.5" r="5.2" stroke-width="2"/>
<circle cx="295.6" cy="704.5" r="5.2" stroke-width="2"/>
<circle cx="342" cy="704.5" r="5.2" stroke-width="2"/>
<circle cx="311.4" cy="635" r="4.5" stroke-width="1.8"/>
<circle cx="338" cy="635" r="4.5" stroke-width="1.8"/>
<circle cx="310.8" cy="726.5" r="4.5" stroke-width="1.8"/>
<circle cx="336.8" cy="726.5" r="4.5" stroke-width="1.8"/>
<path d="M244.4,747.8 L267,751 L301,750 L342.7,747.8 L346,740"/>
<g transform="translate(0,0)">
<path d="M282,758.6 C310,752 335,752 342,754 C352,756 360,762 375,768 C385,772 392,773.2 400,773.2 L514,773"/>
<path d="M287.5,783.2 C305,779 320,777.2 331.4,777.2 C345,778 352,783.2 365,789 C375,794 385,798 400,798 L514,798"/>
<path d="M282,765 L298.8,762 L303.5,774 L287.5,779 Z" stroke-width="2"/>
<circle cx="263.6" cy="779.2" r="19.8" stroke-width="3" fill="#fff"/>
<circle cx="263.6" cy="779.2" r="8.6" stroke-width="8"/>
<circle cx="263.6" cy="779.2" r="15.5" stroke-width="1.2"/>
<path d="M266,752 L244,760 M272,741 Q262,752 252,762" />
</g>
</g>
<g transform="translate(1596,3) scale(-1,1)">
<path d="M376.3,651.9 C385,648 393,642 399.6,634.2 L404.2,626.8 L414.5,626.8 L422,637 C426,642 430,646 436.8,648.2" stroke-width="2"/>
<path d="M405,632 L404.5,654.7 M420,637 L421,653.8 M404.2,640.7 L420,637"/>
<path d="M368,715.2 C375,718 379,721.7 381,726 L388.4,740.3 L399.6,742.2 L423.8,716.1" stroke-width="2"/>
<path d="M387,712 L391,740 M413,718 L411,730 M387.5,724 L412,722"/>
<path d="M351,641.6 C360,645 368,649 376.3,651.9 C395,656 420,652 436.8,653.8"/>
<path d="M362.3,653.8 C375,657 385,657 394,657.5 L436.8,653.8"/>
<path d="M352,657 C368,661 380,662 393,662 L436.8,660"/>
<path d="M387.5,667.7 L436.8,667.7 M387.5,667.7 L387.5,693.8"/>
<path d="M351.2,680.7 L442,681.3"/>
<path d="M358.6,692.8 L436.8,694.7 M352,703 L436.8,703"/>
<path d="M348.4,719.8 L368,712.4 L436.8,712.4"/>
<rect x="353" y="664" width="17.7" height="16.7" stroke-width="2"/>
<path d="M370.7,668 L378,668 L378,680.7"/>
<path d="M356,681 Q362,690 372,688 L377,682"/>
<path d="M551.7,655.5 Q537,659 533.6,667.6 L533.3,697.6 Q537,706 551.7,710.6 L550.6,710.6 Q544,705 542.7,697.6 L542.7,667.6 Q544,661 551.2,655.7 Z M533.6,667.6 L542.7,667.6 M533.3,697.6 L542.7,697.6" stroke-width="2.1"/>
<g transform="translate(1115.9,0) scale(-1,1)"><path d="M551.7,655.5 Q537,659 533.6,667.6 L533.3,697.6 Q537,706 551.7,710.6 L550.6,710.6 Q544,705 542.7,697.6 L542.7,667.6 Q544,661 551.2,655.7 Z M533.6,667.6 L542.7,667.6 M533.3,697.6 L542.7,697.6" stroke-width="2.1"/></g>
<rect x="544.4" y="659.4" width="26.6" height="45.2" rx="7" stroke-width="2"/>
<rect x="546.3" y="662.3" width="22.8" height="39.4" rx="5.5" stroke-width="1.6"/>
<path d="M466.6,647.9 L582,645 M466.6,654.4 L582,654.2 M466.6,662 L533,661 M466.6,681.5 L524,682 M466.6,697 L533,699 M466.6,712 L582,711 M466.6,716 C500,719 530,721.7 582,722.5"/>
<path d="M436.8,648.2 L466.6,647.9 M436.8,653.8 L466.6,654.4 M436.8,660 L466.6,662 M436.8,681.3 L466.6,681.5 M436.8,694.7 L466.6,697 M436.8,712.4 L466.6,712 M436.8,715.2 L466.6,716"/>
</g>
<path d="M997,667 C975,672 950,676 940,680 C934,683 934,688 940,690 C950,694 975,698 997,704.5"/>
<path d="M997,670 C975,675 955,679 945,682" stroke-width="1.1"/>
<path d="M898.4,630 C930,640 960,643 997,644.6 L1016,645.5"/>
<path d="M898.4,740 C930,733 960,728 997,726 L1016,725.5"/>
<path d="M902,632 L913,629 L936,629 L937,640 M925,629 L926,640" />
<path d="M912,651 C925,653 960,655 997,655 M912,720 C925,718 960,716 997,716" />
<path d="M898,653 L912,651 M898,718 L912,720"/>
<path d="M1143,663 Q1160,656 1175,663 Q1160,670 1143,663 Z"/>
<rect x="926.7" y="776.3" width="74.2" height="26.3" fill="#fff"/>
<path d="M1003.3,771.5 L1028,771.5 Q1033,774 1037,778 L1037,802 Q1033,806 1028,808.6 L1003.3,808.6 Z" fill="#fff"/>
<path d="M1003.3,771.5 L1003.3,808.6" stroke-width="3"/>
<path d="M1008,779 L1016,779 Q1020,788 1016,797 L1008,797 Z" stroke-width="1.8"/>
<path d="M1024,796 L1024,808" stroke-dasharray="3,3"/>
<path d="M1038,775 C1044,774 1047.5,780 1047.5,790 C1047.5,800 1044,806 1038,806 Z" stroke-width="1.6"/>
<path d="M1041,776 L1041,805" stroke-width="3"/>
<path d="M1047.5,781 L1071.5,781 L1071.5,796.6 L1047.5,796.6 M1055,781 L1055,796.6 M1063,781 L1063,796.6"/>
<rect x="1071.5" y="778.7" width="9.5" height="22.7"/>
<rect x="766.3" y="487.6" width="13.2" height="12.8" stroke-width="2.2"/><rect x="769.5" y="491.2" width="7.2" height="6" fill="#000" stroke-width="1"/>
<rect x="819.4" y="488" width="13.2" height="12.4" stroke-width="2.2"/><rect x="822.6" y="491.5" width="7.2" height="6" fill="#000" stroke-width="1"/>
<path d="M766.3,500.4 L764.7,506.3 L764.3,515.1 L766.3,516.7 L776.7,543.8 M775.9,500.4 L776.7,507.1 L779.1,510.3 L783.9,510.7 L786.3,513.5 L788.7,517.5 M775.1,517.5 L778.3,543.8" stroke-width="2.2"/>
<path d="M832.6,500.4 L834.2,506.3 L834.6,515.1 L831.8,516.7 L822.2,543.8 M823,500.4 L822.2,510.3 L815,510.7 L812,513.5 L810.2,517.5 M823.8,517.5 L820.6,543.8" stroke-width="2.2"/>
<path d="M765,515 L788.7,515.5 M810,515.5 L834,515" stroke-width="3"/>
<path d="M769,518 L775,540 M829,518 L823,540" stroke-width="2.5"/>
<path d="M791.5,512.3 L806.6,512.3 L806.6,519 Q803,523.5 799,523.5 Q795,523.5 791.5,519 Z M792,517 L806,517" stroke-width="1.8"/>
<rect x="775.1" y="543.8" width="47.9" height="6.4" stroke-width="1.8"/>
<path d="M776,545.5 L822,545.5" stroke-width="1.2"/>
<path d="M765.5,551 L823,551 L832.6,551.8 L839,563.8 L844.5,599.7 L851.7,604.5"/>
<path d="M765.5,551 L763.9,555.8 C760,560 758.4,567.8 758.4,567.8 L754.4,591.7 L752,603.7"/>
<path d="M763.9,556 L757,600 M819,551.8 C818,565 818,585 819,599.7 M826.2,574.2 L829.4,604.5 M826.2,566 L838.6,566 M832.6,551.8 L834,566"/>
<path d="M752,604.5 L766.3,597.3 C770,597 773,598 775.9,599.7 L784.7,607.7 L791.9,611.7 L807.8,611.7 L816.6,604.5 L823.8,601.3 L835.8,606.9 L843.8,599.7 L851.7,604.5" stroke-width="2.2"/>
<path d="M757,606 C765,601 772,601 778,604 L786,611 M816,607 L825,603 L834,609 M838,604 L848,606" stroke-width="1.4"/>
<path d="M849.5,601.7 L892.4,601.7 L892.4,761.2"/>
<path d="M869.5,609.6 L869.5,640 M869.5,650 L869.5,719.3"/>
<path d="M892.4,605.6 L898.4,605.6 L898.4,761 M892.4,761 L898.4,761"/>
<path d="M892.4,610 L898.4,610" stroke-width="1.1"/>
<path d="M892.4,621 L898.4,621" stroke-width="1.1"/>
<path d="M892.4,632 L898.4,632" stroke-width="1.1"/>
<path d="M892.4,643 L898.4,643" stroke-width="1.1"/>
<path d="M892.4,654 L898.4,654" stroke-width="1.1"/>
<path d="M892.4,665 L898.4,665" stroke-width="1.1"/>
<path d="M892.4,676 L898.4,676" stroke-width="1.1"/>
<path d="M892.4,687 L898.4,687" stroke-width="1.1"/>
<path d="M892.4,698 L898.4,698" stroke-width="1.1"/>
<path d="M892.4,709 L898.4,709" stroke-width="1.1"/>
<path d="M892.4,720 L898.4,720" stroke-width="1.1"/>
<path d="M892.4,731 L898.4,731" stroke-width="1.1"/>
<path d="M892.4,742 L898.4,742" stroke-width="1.1"/>
<path d="M892.4,753 L898.4,753" stroke-width="1.1"/>
<path d="M747.8,683.4 L743.8,757.2 L745.8,813.1 L869.5,813.1"/>
<path d="M560,683 L892,683.4" stroke-width="1.3"/>
<rect x="758.7" y="620.6" width="23" height="137.7" rx="6" stroke-width="2"/>
<rect x="761.5" y="623.5" width="17.4" height="132" rx="4.5" stroke-width="1.1"/>
<path d="M777.7,613.6 L823.6,613.6 L826,640 M779,613.6 L778,813 M815.6,683.4 L813.6,813.1"/>
<path d="M826.3,617.9 L836.1,627.7 L838.9,659.8 M828.9,662.6 C835,668 842,676 845.9,683.5 C848,690 849,697 848.7,701.7 C855,715 862,725 869.6,732.4 L864,740.8 L863.5,813.1" />
<path d="M826,661 C830,672 834,684 838,690 C842,705 846,718 851,728 C855,733 860,737 864,740.8" stroke-width="1.6"/>
<path d="M824,673 L828,663 L838,683.5 L818,684"/>
<path d="M748,690 C745,700 742,720 745,740 M752,700 C750,720 750,740 753,760"/>
<circle cx="797.6" cy="741.3" r="6"/><circle cx="797.6" cy="741.3" r="3"/>
<path d="M745.8,813.1 L745.8,825 L759.7,825 L759.7,813.1 M763.7,825.5 L831.5,825.5" stroke-width="1.8"/>
<path d="M845.5,813.1 L845.5,825 L869.5,825 L869.5,813.1"/>
<path d="M869.5,761 L889.4,761 M879.4,757.2 L879.4,825 M889.4,757 L889.4,825 M869.5,825 L889.4,825"/>
<path d="M879.4,765 L889.4,765" stroke-width="1.1"/>
<path d="M879.4,775 L889.4,775" stroke-width="1.1"/>
<path d="M879.4,785 L889.4,785" stroke-width="1.1"/>
<path d="M879.4,795 L889.4,795" stroke-width="1.1"/>
<path d="M879.4,805 L889.4,805" stroke-width="1.1"/>
<path d="M879.4,815 L889.4,815" stroke-width="1.1"/>
<rect x="673.9" y="762.2" width="69.1" height="50.6" fill="#fff"/>
<path d="M705.8,762.2 L705.8,812.8 M705.8,788.8 L743,788.8"/>
<circle cx="696.5" cy="787.5" r="7"/><circle cx="696.5" cy="787.5" r="4"/>
<rect x="889.6" y="763.1" width="37.1" height="52.7" fill="#fff"/>
<path d="M926.7,766 L929,770 L929,810 L926.7,814" />
<circle cx="899.1" cy="788.2" r="9.3" fill="#000"/><circle cx="899.1" cy="788.2" r="4" stroke="#555" stroke-width="1"/>
</g>
<g>
<clipPath id="tcl"><path d="M114,1119 C140,1108 165,1103 195,1103 C230,1103 262,1110 294,1121 C299,1140 301,1170 301,1215 L301,1620 C301,1660 298,1690 293,1708 C262,1721 230,1728 195,1728 C160,1728 135,1721 111,1708 C106,1690 104,1660 104,1620 L104,1215 C104,1170 107,1140 114,1119 Z"/></clipPath>
<path d="M114,1119 C140,1108 165,1103 195,1103 C230,1103 262,1110 294,1121 C299,1140 301,1170 301,1215 L301,1620 C301,1660 298,1690 293,1708 C262,1721 230,1728 195,1728 C160,1728 135,1721 111,1708 C106,1690 104,1660 104,1620 L104,1215 C104,1170 107,1140 114,1119 Z" fill="#fff" stroke-width="2"/>
<g clip-path="url(#tcl)" stroke-width="2.1">
<path d="M111,1150 C109,1300 109,1530 111,1690 M289.5,1150 C291.5,1300 291.5,1530 289.5,1690"/>
<path d="M295,1140 C298,1300 298,1530 295,1700" stroke-width="1.1"/>
<path d="M102.7,1100.8 L105.7,1102.8 L172.9,1102.8 L190,1102.8 M190,1102.8 L159.3,1102.8 L105.7,1102.8 L102.7,1100.8"/>
<path d="M198,1102.8 L209,1102.8 L216.5,1102.8 L216.5,1102.8 L209,1102.8 L198,1102.8"/>
<path d="M110.7,1109.7 L172.9,1109.7 L176,1102.8 M172.9,1109.7 L190,1109.7" stroke-width="1.5"/>
<path d="M111.7,1104.8 L111.7,1101.1" stroke-width="1.5"/>
<path d="M293.9,1100.8 L290.9,1102.8 L221.5,1103.0 L198,1103.0 M198,1105.5 L233,1105.5 L290.9,1102.8 L293.9,1100.8"/>
<path d="M190,1103.0 L186.8,1103.0 L179.3,1103.8 L179.3,1104.6 L186.8,1105.5 L190,1105.5"/>
<path d="M285.9,1109.8 L221.5,1109.9 L218,1103.0 M221.5,1109.9 L198,1109.9" stroke-width="1.5"/>
<path d="M284.9,1104.8 L284.9,1106.2" stroke-width="1.5"/>
<path d="M102.7,1101.0 L105.7,1103.0 L172.9,1108.2 L190,1108.2 M190,1115.5 L159.3,1115.5 L105.7,1107.0 L102.7,1105.0"/>
<path d="M198,1108.2 L209,1108.2 L216.5,1110.6 L216.5,1113.1 L209,1115.5 L198,1115.5"/>
<path d="M110.7,1109.9 L172.9,1115.1 L176,1108.2 M172.9,1115.1 L190,1115.1" stroke-width="1.5"/>
<path d="M111.7,1109.0 L111.7,1120.2" stroke-width="1.5"/>
<path d="M293.9,1106.0 L290.9,1108.0 L221.5,1121.2 L198,1121.2 M198,1133.2 L233,1133.2 L290.9,1119.4 L293.9,1117.4"/>
<path d="M190,1121.2 L186.8,1121.2 L179.3,1125.2 L179.3,1129.2 L186.8,1133.2 L190,1133.2"/>
<path d="M285.9,1114.6 L221.5,1127.8 L218,1121.2 M221.5,1127.8 L198,1127.8" stroke-width="1.5"/>
<path d="M284.9,1121.4 L284.9,1138.5" stroke-width="1.5"/>
<path d="M102.7,1119.5 L105.7,1121.5 L172.9,1141.1 L190,1141.1 M190,1157.4 L159.3,1157.4 L105.7,1137.1 L102.7,1135.1"/>
<path d="M198,1141.1 L209,1141.1 L216.5,1146.5 L216.5,1151.9 L209,1157.4 L198,1157.4"/>
<path d="M110.7,1127.6 L172.9,1147.2 L176,1141.1 M172.9,1147.2 L190,1147.2" stroke-width="1.5"/>
<path d="M111.7,1139.1 L111.7,1166.7" stroke-width="1.5"/>
<path d="M293.9,1137.2 L290.9,1139.2 L221.5,1168.2 L198,1168.2 M198,1188.6 L233,1188.6 L290.9,1163.2 L293.9,1161.2"/>
<path d="M190,1168.2 L186.8,1168.2 L179.3,1175.0 L179.3,1181.8 L186.8,1188.6 L190,1188.6"/>
<path d="M285.9,1144.7 L221.5,1173.8 L218,1168.2 M221.5,1173.8 L198,1173.8" stroke-width="1.5"/>
<path d="M284.9,1165.2 L284.9,1195.9" stroke-width="1.5"/>
<path d="M102.7,1164.6 L105.7,1166.6 L172.9,1200.7 L190,1200.7 M190,1224.5 L159.3,1224.5 L105.7,1192.1 L102.7,1190.1"/>
<path d="M198,1200.7 L209,1200.7 L216.5,1208.7 L216.5,1216.6 L209,1224.5 L198,1224.5"/>
<path d="M110.7,1171.4 L172.9,1205.5 L176,1200.7 M172.9,1205.5 L190,1205.5" stroke-width="1.5"/>
<path d="M111.7,1194.1 L111.7,1235.1" stroke-width="1.5"/>
<path d="M293.9,1192.9 L290.9,1194.9 L221.5,1239.4 L198,1239.4 M198,1266.1 L233,1266.1 L290.9,1229.2 L293.9,1227.2"/>
<path d="M190,1239.4 L186.8,1239.4 L179.3,1247.4 L179.3,1258.1 L186.8,1266.1 L190,1266.1"/>
<path d="M285.9,1198.8 L221.5,1243.4 L218,1239.4 M221.5,1243.4 L198,1243.4" stroke-width="1.5"/>
<path d="M284.9,1231.2 L284.9,1272.0" stroke-width="1.5"/>
<path d="M102.7,1231.2 L105.7,1233.2 L172.9,1281.4 L190,1281.4 M190,1310.3 L159.3,1310.3 L105.7,1266.3 L102.7,1264.3"/>
<path d="M198,1281.4 L209,1281.4 L216.5,1289.4 L216.5,1302.3 L209,1310.3 L198,1310.3"/>
<path d="M110.7,1236.2 L172.9,1284.4 L176,1281.4 M172.9,1284.4 L190,1284.4" stroke-width="1.5"/>
<path d="M111.7,1268.3 L111.7,1318.5" stroke-width="1.5"/>
<path d="M293.9,1267.3 L290.9,1269.3 L221.5,1327.8 L198,1327.8 M198,1358.2 L233,1358.2 L290.9,1310.8 L293.9,1308.8"/>
<path d="M190,1327.8 L186.8,1327.8 L179.3,1335.8 L179.3,1350.2 L186.8,1358.2 L190,1358.2"/>
<path d="M285.9,1271.3 L221.5,1329.8 L218,1327.8 M221.5,1329.8 L198,1329.8" stroke-width="1.5"/>
<path d="M284.9,1312.8 L284.9,1359.8" stroke-width="1.5"/>
<path d="M102.7,1313.2 L105.7,1315.2 L172.9,1375.2 L190,1375.2 M190,1406.3 L159.3,1406.3 L105.7,1352.9 L102.7,1350.9"/>
<path d="M198,1375.2 L209,1375.2 L216.5,1383.2 L216.5,1398.3 L209,1406.3 L198,1406.3"/>
<path d="M110.7,1316.1 L172.9,1376.1 L176,1375.2 M172.9,1376.1 L190,1376.1" stroke-width="1.5"/>
<path d="M111.7,1354.9 L111.7,1409.5" stroke-width="1.5"/>
<path d="M293.9,1354.1 L290.9,1356.1 L221.5,1424.7 L198,1424.7 M198,1455.9 L233,1455.9 L290.9,1401.1 L293.9,1399.1"/>
<path d="M190,1424.7 L186.8,1424.7 L179.3,1432.7 L179.3,1447.9 L186.8,1455.9 L190,1455.9"/>
<path d="M285.9,1400.8 L233,1455.7 L236,1455.9 M233,1455.7 L198,1455.7" stroke-width="1.5"/>
<path d="M284.9,1403.1 L284.9,1451.8" stroke-width="1.5"/>
<path d="M102.7,1403.7 L105.7,1405.7 L172.9,1472.8 L190,1472.8 M190,1503.2 L159.3,1503.2 L105.7,1444.7 L102.7,1442.7"/>
<path d="M198,1472.8 L209,1472.8 L216.5,1480.8 L216.5,1495.2 L209,1503.2 L198,1503.2"/>
<path d="M110.7,1443.4 L159.3,1501.9 L156,1503.2 M159.3,1501.9 L190,1501.9" stroke-width="1.5"/>
<path d="M111.7,1446.7 L111.7,1500.6" stroke-width="1.5"/>
<path d="M293.9,1446.0 L290.9,1448.0 L221.5,1520.8 L198,1520.8 M198,1549.6 L233,1549.6 L290.9,1492.6 L293.9,1490.6"/>
<path d="M190,1520.8 L186.8,1520.8 L179.3,1528.8 L179.3,1541.6 L186.8,1549.6 L190,1549.6"/>
<path d="M285.9,1490.2 L233,1547.2 L236,1549.6 M233,1547.2 L198,1547.2" stroke-width="1.5"/>
<path d="M284.9,1494.6 L284.9,1540.4" stroke-width="1.5"/>
<path d="M102.7,1495.3 L105.7,1497.3 L172.9,1564.9 L190,1564.9 M190,1591.5 L159.3,1591.5 L105.7,1534.2 L102.7,1532.2"/>
<path d="M198,1564.9 L209,1564.9 L216.5,1572.9 L216.5,1583.5 L209,1591.5 L198,1591.5"/>
<path d="M110.7,1530.9 L159.3,1588.2 L156,1591.5 M159.3,1588.2 L190,1588.2" stroke-width="1.5"/>
<path d="M111.7,1536.2 L111.7,1584.4" stroke-width="1.5"/>
<path d="M293.9,1535.7 L290.9,1537.7 L221.5,1606.5 L198,1606.5 M198,1630.2 L233,1630.2 L290.9,1578.0 L293.9,1576.0"/>
<path d="M190,1606.5 L186.8,1606.5 L179.3,1614.4 L179.3,1622.3 L186.8,1630.2 L190,1630.2"/>
<path d="M285.9,1573.7 L233,1625.9 L236,1630.2 M233,1625.9 L198,1625.9" stroke-width="1.5"/>
<path d="M284.9,1580.0 L284.9,1618.5" stroke-width="1.5"/>
<path d="M102.7,1580.5 L105.7,1582.5 L172.9,1642.3 L190,1642.3 M190,1662.6 L159.3,1662.6 L105.7,1614.1 L102.7,1612.1"/>
<path d="M198,1642.3 L209,1642.3 L216.5,1649.1 L216.5,1655.9 L209,1662.6 L198,1662.6"/>
<path d="M110.7,1609.0 L159.3,1657.5 L156,1662.6 M159.3,1657.5 L190,1657.5" stroke-width="1.5"/>
<path d="M111.7,1616.1 L111.7,1653.9" stroke-width="1.5"/>
<path d="M293.9,1615.5 L290.9,1617.5 L221.5,1673.5 L198,1673.5 M198,1689.8 L233,1689.8 L290.9,1649.8 L293.9,1647.8"/>
<path d="M190,1673.5 L186.8,1673.5 L179.3,1678.9 L179.3,1684.3 L186.8,1689.8 L190,1689.8"/>
<path d="M285.9,1644.0 L233,1684.0 L236,1689.8 M233,1684.0 L198,1684.0" stroke-width="1.5"/>
<path d="M284.9,1651.8 L284.9,1679.2" stroke-width="1.5"/>
<path d="M102.7,1651.8 L105.7,1653.8 L172.9,1697.6 L190,1697.6 M190,1709.5 L159.3,1709.5 L105.7,1677.1 L102.7,1675.1"/>
<path d="M198,1697.6 L209,1697.6 L216.5,1701.5 L216.5,1705.5 L209,1709.5 L198,1709.5"/>
<path d="M110.7,1670.8 L159.3,1703.2 L156,1709.5 M159.3,1703.2 L190,1703.2" stroke-width="1.5"/>
<path d="M111.7,1679.1 L111.7,1702.5" stroke-width="1.5"/>
<path d="M293.9,1677.9 L290.9,1679.9 L221.5,1715.2 L198,1715.2 M198,1722.5 L233,1722.5 L290.9,1701.1 L293.9,1699.1"/>
<path d="M190,1715.2 L186.8,1715.2 L179.3,1717.7 L179.3,1720.1 L186.8,1722.5 L190,1722.5"/>
<path d="M285.9,1694.4 L233,1715.8 L236,1722.5 M233,1715.8 L198,1715.8" stroke-width="1.5"/>
<path d="M284.9,1703.1 L284.9,1716.3" stroke-width="1.5"/>
<path d="M102.7,1701.8 L105.7,1703.8 L172.9,1725.2 L190,1725.2 M190,1727.7 L159.3,1727.7 L105.7,1716.6 L102.7,1714.6"/>
<path d="M198,1725.2 L209,1725.2 L216.5,1726.0 L216.5,1726.8 L209,1727.7 L198,1727.7"/>
<path d="M110.7,1709.6 L159.3,1720.7 L156,1727.7 M159.3,1720.7 L190,1720.7" stroke-width="1.5"/>
<path d="M111.7,1718.6 L111.7,1724.8" stroke-width="1.5"/>
<path d="M293.9,1716.1 L290.9,1718.1 L221.5,1727.8 L198,1727.8 M198,1727.8 L233,1727.8 L290.9,1726.1 L293.9,1724.1"/>
<path d="M190,1727.8 L186.8,1727.8 L179.3,1727.8 L179.3,1727.8 L186.8,1727.8 L190,1727.8"/>
<path d="M285.9,1719.1 L233,1720.8 L236,1727.8 M233,1720.8 L198,1720.8" stroke-width="1.5"/>
<path d="M284.9,1728.1 L284.9,1725.8" stroke-width="1.5"/>
<path d="M102.7,1724.8 L105.7,1726.8 L172.9,1727.8 L190,1727.8 M190,1727.8 L159.3,1727.8 L105.7,1727.8 L102.7,1725.8"/>
<path d="M198,1727.8 L209,1727.8 L216.5,1727.8 L216.5,1727.8 L209,1727.8 L198,1727.8"/>
<path d="M110.7,1720.9 L159.3,1720.9 L156,1727.8 M159.3,1720.9 L190,1720.9" stroke-width="1.5"/>
<path d="M111.7,1729.8 L111.7,1725.8" stroke-width="1.5"/>
</g>
<rect x="190" y="1098" width="8" height="636" fill="#fff" stroke="none"/>
</g>
<g transform="translate(1567,7) scale(-1,1)">
<clipPath id="tcm"><path d="M114,1119 C140,1108 165,1103 195,1103 C230,1103 262,1110 294,1121 C299,1140 301,1170 301,1215 L301,1620 C301,1660 298,1690 293,1708 C262,1721 230,1728 195,1728 C160,1728 135,1721 111,1708 C106,1690 104,1660 104,1620 L104,1215 C104,1170 107,1140 114,1119 Z"/></clipPath>
<path d="M114,1119 C140,1108 165,1103 195,1103 C230,1103 262,1110 294,1121 C299,1140 301,1170 301,1215 L301,1620 C301,1660 298,1690 293,1708 C262,1721 230,1728 195,1728 C160,1728 135,1721 111,1708 C106,1690 104,1660 104,1620 L104,1215 C104,1170 107,1140 114,1119 Z" fill="#fff" stroke-width="2"/>
<g clip-path="url(#tcm)" stroke-width="2.1">
<path d="M111,1150 C109,1300 109,1530 111,1690 M289.5,1150 C291.5,1300 291.5,1530 289.5,1690"/>
<path d="M295,1140 C298,1300 298,1530 295,1700" stroke-width="1.1"/>
<path d="M102.7,1100.8 L105.7,1102.8 L172.9,1102.8 L190,1102.8 M190,1102.8 L159.3,1102.8 L105.7,1102.8 L102.7,1100.8"/>
<path d="M198,1102.8 L209,1102.8 L216.5,1102.8 L216.5,1102.8 L209,1102.8 L198,1102.8"/>
<path d="M110.7,1109.7 L172.9,1109.7 L176,1102.8 M172.9,1109.7 L190,1109.7" stroke-width="1.5"/>
<path d="M111.7,1104.8 L111.7,1101.1" stroke-width="1.5"/>
<path d="M293.9,1100.8 L290.9,1102.8 L221.5,1103.0 L198,1103.0 M198,1105.5 L233,1105.5 L290.9,1102.8 L293.9,1100.8"/>
<path d="M190,1103.0 L186.8,1103.0 L179.3,1103.8 L179.3,1104.6 L186.8,1105.5 L190,1105.5"/>
<path d="M285.9,1109.8 L221.5,1109.9 L218,1103.0 M221.5,1109.9 L198,1109.9" stroke-width="1.5"/>
<path d="M284.9,1104.8 L284.9,1106.2" stroke-width="1.5"/>
<path d="M102.7,1101.0 L105.7,1103.0 L172.9,1108.2 L190,1108.2 M190,1115.5 L159.3,1115.5 L105.7,1107.0 L102.7,1105.0"/>
<path d="M198,1108.2 L209,1108.2 L216.5,1110.6 L216.5,1113.1 L209,1115.5 L198,1115.5"/>
<path d="M110.7,1109.9 L172.9,1115.1 L176,1108.2 M172.9,1115.1 L190,1115.1" stroke-width="1.5"/>
<path d="M111.7,1109.0 L111.7,1120.2" stroke-width="1.5"/>
<path d="M293.9,1106.0 L290.9,1108.0 L221.5,1121.2 L198,1121.2 M198,1133.2 L233,1133.2 L290.9,1119.4 L293.9,1117.4"/>
<path d="M190,1121.2 L186.8,1121.2 L179.3,1125.2 L179.3,1129.2 L186.8,1133.2 L190,1133.2"/>
<path d="M285.9,1114.6 L221.5,1127.8 L218,1121.2 M221.5,1127.8 L198,1127.8" stroke-width="1.5"/>
<path d="M284.9,1121.4 L284.9,1138.5" stroke-width="1.5"/>
<path d="M102.7,1119.5 L105.7,1121.5 L172.9,1141.1 L190,1141.1 M190,1157.4 L159.3,1157.4 L105.7,1137.1 L102.7,1135.1"/>
<path d="M198,1141.1 L209,1141.1 L216.5,1146.5 L216.5,1151.9 L209,1157.4 L198,1157.4"/>
<path d="M110.7,1127.6 L172.9,1147.2 L176,1141.1 M172.9,1147.2 L190,1147.2" stroke-width="1.5"/>
<path d="M111.7,1139.1 L111.7,1166.7" stroke-width="1.5"/>
<path d="M293.9,1137.2 L290.9,1139.2 L221.5,1168.2 L198,1168.2 M198,1188.6 L233,1188.6 L290.9,1163.2 L293.9,1161.2"/>
<path d="M190,1168.2 L186.8,1168.2 L179.3,1175.0 L179.3,1181.8 L186.8,1188.6 L190,1188.6"/>
<path d="M285.9,1144.7 L221.5,1173.8 L218,1168.2 M221.5,1173.8 L198,1173.8" stroke-width="1.5"/>
<path d="M284.9,1165.2 L284.9,1195.9" stroke-width="1.5"/>
<path d="M102.7,1164.6 L105.7,1166.6 L172.9,1200.7 L190,1200.7 M190,1224.5 L159.3,1224.5 L105.7,1192.1 L102.7,1190.1"/>
<path d="M198,1200.7 L209,1200.7 L216.5,1208.7 L216.5,1216.6 L209,1224.5 L198,1224.5"/>
<path d="M110.7,1171.4 L172.9,1205.5 L176,1200.7 M172.9,1205.5 L190,1205.5" stroke-width="1.5"/>
<path d="M111.7,1194.1 L111.7,1235.1" stroke-width="1.5"/>
<path d="M293.9,1192.9 L290.9,1194.9 L221.5,1239.4 L198,1239.4 M198,1266.1 L233,1266.1 L290.9,1229.2 L293.9,1227.2"/>
<path d="M190,1239.4 L186.8,1239.4 L179.3,1247.4 L179.3,1258.1 L186.8,1266.1 L190,1266.1"/>
<path d="M285.9,1198.8 L221.5,1243.4 L218,1239.4 M221.5,1243.4 L198,1243.4" stroke-width="1.5"/>
<path d="M284.9,1231.2 L284.9,1272.0" stroke-width="1.5"/>
<path d="M102.7,1231.2 L105.7,1233.2 L172.9,1281.4 L190,1281.4 M190,1310.3 L159.3,1310.3 L105.7,1266.3 L102.7,1264.3"/>
<path d="M198,1281.4 L209,1281.4 L216.5,1289.4 L216.5,1302.3 L209,1310.3 L198,1310.3"/>
<path d="M110.7,1236.2 L172.9,1284.4 L176,1281.4 M172.9,1284.4 L190,1284.4" stroke-width="1.5"/>
<path d="M111.7,1268.3 L111.7,1318.5" stroke-width="1.5"/>
<path d="M293.9,1267.3 L290.9,1269.3 L221.5,1327.8 L198,1327.8 M198,1358.2 L233,1358.2 L290.9,1310.8 L293.9,1308.8"/>
<path d="M190,1327.8 L186.8,1327.8 L179.3,1335.8 L179.3,1350.2 L186.8,1358.2 L190,1358.2"/>
<path d="M285.9,1271.3 L221.5,1329.8 L218,1327.8 M221.5,1329.8 L198,1329.8" stroke-width="1.5"/>
<path d="M284.9,1312.8 L284.9,1359.8" stroke-width="1.5"/>
<path d="M102.7,1313.2 L105.7,1315.2 L172.9,1375.2 L190,1375.2 M190,1406.3 L159.3,1406.3 L105.7,1352.9 L102.7,1350.9"/>
<path d="M198,1375.2 L209,1375.2 L216.5,1383.2 L216.5,1398.3 L209,1406.3 L198,1406.3"/>
<path d="M110.7,1316.1 L172.9,1376.1 L176,1375.2 M172.9,1376.1 L190,1376.1" stroke-width="1.5"/>
<path d="M111.7,1354.9 L111.7,1409.5" stroke-width="1.5"/>
<path d="M293.9,1354.1 L290.9,1356.1 L221.5,1424.7 L198,1424.7 M198,1455.9 L233,1455.9 L290.9,1401.1 L293.9,1399.1"/>
<path d="M190,1424.7 L186.8,1424.7 L179.3,1432.7 L179.3,1447.9 L186.8,1455.9 L190,1455.9"/>
<path d="M285.9,1400.8 L233,1455.7 L236,1455.9 M233,1455.7 L198,1455.7" stroke-width="1.5"/>
<path d="M284.9,1403.1 L284.9,1451.8" stroke-width="1.5"/>
<path d="M102.7,1403.7 L105.7,1405.7 L172.9,1472.8 L190,1472.8 M190,1503.2 L159.3,1503.2 L105.7,1444.7 L102.7,1442.7"/>
<path d="M198,1472.8 L209,1472.8 L216.5,1480.8 L216.5,1495.2 L209,1503.2 L198,1503.2"/>
<path d="M110.7,1443.4 L159.3,1501.9 L156,1503.2 M159.3,1501.9 L190,1501.9" stroke-width="1.5"/>
<path d="M111.7,1446.7 L111.7,1500.6" stroke-width="1.5"/>
<path d="M293.9,1446.0 L290.9,1448.0 L221.5,1520.8 L198,1520.8 M198,1549.6 L233,1549.6 L290.9,1492.6 L293.9,1490.6"/>
<path d="M190,1520.8 L186.8,1520.8 L179.3,1528.8 L179.3,1541.6 L186.8,1549.6 L190,1549.6"/>
<path d="M285.9,1490.2 L233,1547.2 L236,1549.6 M233,1547.2 L198,1547.2" stroke-width="1.5"/>
<path d="M284.9,1494.6 L284.9,1540.4" stroke-width="1.5"/>
<path d="M102.7,1495.3 L105.7,1497.3 L172.9,1564.9 L190,1564.9 M190,1591.5 L159.3,1591.5 L105.7,1534.2 L102.7,1532.2"/>
<path d="M198,1564.9 L209,1564.9 L216.5,1572.9 L216.5,1583.5 L209,1591.5 L198,1591.5"/>
<path d="M110.7,1530.9 L159.3,1588.2 L156,1591.5 M159.3,1588.2 L190,1588.2" stroke-width="1.5"/>
<path d="M111.7,1536.2 L111.7,1584.4" stroke-width="1.5"/>
<path d="M293.9,1535.7 L290.9,1537.7 L221.5,1606.5 L198,1606.5 M198,1630.2 L233,1630.2 L290.9,1578.0 L293.9,1576.0"/>
<path d="M190,1606.5 L186.8,1606.5 L179.3,1614.4 L179.3,1622.3 L186.8,1630.2 L190,1630.2"/>
<path d="M285.9,1573.7 L233,1625.9 L236,1630.2 M233,1625.9 L198,1625.9" stroke-width="1.5"/>
<path d="M284.9,1580.0 L284.9,1618.5" stroke-width="1.5"/>
<path d="M102.7,1580.5 L105.7,1582.5 L172.9,1642.3 L190,1642.3 M190,1662.6 L159.3,1662.6 L105.7,1614.1 L102.7,1612.1"/>
<path d="M198,1642.3 L209,1642.3 L216.5,1649.1 L216.5,1655.9 L209,1662.6 L198,1662.6"/>
<path d="M110.7,1609.0 L159.3,1657.5 L156,1662.6 M159.3,1657.5 L190,1657.5" stroke-width="1.5"/>
<path d="M111.7,1616.1 L111.7,1653.9" stroke-width="1.5"/>
<path d="M293.9,1615.5 L290.9,1617.5 L221.5,1673.5 L198,1673.5 M198,1689.8 L233,1689.8 L290.9,1649.8 L293.9,1647.8"/>
<path d="M190,1673.5 L186.8,1673.5 L179.3,1678.9 L179.3,1684.3 L186.8,1689.8 L190,1689.8"/>
<path d="M285.9,1644.0 L233,1684.0 L236,1689.8 M233,1684.0 L198,1684.0" stroke-width="1.5"/>
<path d="M284.9,1651.8 L284.9,1679.2" stroke-width="1.5"/>
<path d="M102.7,1651.8 L105.7,1653.8 L172.9,1697.6 L190,1697.6 M190,1709.5 L159.3,1709.5 L105.7,1677.1 L102.7,1675.1"/>
<path d="M198,1697.6 L209,1697.6 L216.5,1701.5 L216.5,1705.5 L209,1709.5 L198,1709.5"/>
<path d="M110.7,1670.8 L159.3,1703.2 L156,1709.5 M159.3,1703.2 L190,1703.2" stroke-width="1.5"/>
<path d="M111.7,1679.1 L111.7,1702.5" stroke-width="1.5"/>
<path d="M293.9,1677.9 L290.9,1679.9 L221.5,1715.2 L198,1715.2 M198,1722.5 L233,1722.5 L290.9,1701.1 L293.9,1699.1"/>
<path d="M190,1715.2 L186.8,1715.2 L179.3,1717.7 L179.3,1720.1 L186.8,1722.5 L190,1722.5"/>
<path d="M285.9,1694.4 L233,1715.8 L236,1722.5 M233,1715.8 L198,1715.8" stroke-width="1.5"/>
<path d="M284.9,1703.1 L284.9,1716.3" stroke-width="1.5"/>
<path d="M102.7,1701.8 L105.7,1703.8 L172.9,1725.2 L190,1725.2 M190,1727.7 L159.3,1727.7 L105.7,1716.6 L102.7,1714.6"/>
<path d="M198,1725.2 L209,1725.2 L216.5,1726.0 L216.5,1726.8 L209,1727.7 L198,1727.7"/>
<path d="M110.7,1709.6 L159.3,1720.7 L156,1727.7 M159.3,1720.7 L190,1720.7" stroke-width="1.5"/>
<path d="M111.7,1718.6 L111.7,1724.8" stroke-width="1.5"/>
<path d="M293.9,1716.1 L290.9,1718.1 L221.5,1727.8 L198,1727.8 M198,1727.8 L233,1727.8 L290.9,1726.1 L293.9,1724.1"/>
<path d="M190,1727.8 L186.8,1727.8 L179.3,1727.8 L179.3,1727.8 L186.8,1727.8 L190,1727.8"/>
<path d="M285.9,1719.1 L233,1720.8 L236,1727.8 M233,1720.8 L198,1720.8" stroke-width="1.5"/>
<path d="M284.9,1728.1 L284.9,1725.8" stroke-width="1.5"/>
<path d="M102.7,1724.8 L105.7,1726.8 L172.9,1727.8 L190,1727.8 M190,1727.8 L159.3,1727.8 L105.7,1727.8 L102.7,1725.8"/>
<path d="M198,1727.8 L209,1727.8 L216.5,1727.8 L216.5,1727.8 L209,1727.8 L198,1727.8"/>
<path d="M110.7,1720.9 L159.3,1720.9 L156,1727.8 M159.3,1720.9 L190,1720.9" stroke-width="1.5"/>
<path d="M111.7,1729.8 L111.7,1725.8" stroke-width="1.5"/>
</g>
<rect x="190" y="1098" width="8" height="636" fill="#fff" stroke="none"/>
</g>
<path d="M194,1024.7 L194,1813.7 M1373,1024.4 L1373,1814.6" stroke-width="1.8"/>
<path d="M196,1068.3 L754,1068.3 M796.5,1068.3 L1371,1068.3" stroke-width="1.8"/>
<path d="M195.5,1068.3 L212.5,1063.7 L211.5,1068.3 L212.5,1072.8999999999999 Z" fill="#000" stroke="#000" stroke-width="0.8"/>
<path d="M1371.5,1068.3 L1354.5,1063.7 L1355.5,1068.3 L1354.5,1072.8999999999999 Z" fill="#000" stroke="#000" stroke-width="0.8"/>
<circle cx="775.5" cy="1068.3" r="21" stroke-width="2.9" fill="#fff"/>
<text x="775.5" y="1077.8999999999999" text-anchor="middle" font-family="Liberation Sans" font-weight="bold" font-size="27" fill="#000" stroke="none">6</text>
<path d="M196,1782.4 L754,1782.4 M796.5,1782.4 L1371,1782.4" stroke-width="1.8"/>
<path d="M195.5,1782.4 L212.5,1777.8000000000002 L211.5,1782.4 L212.5,1787.0 Z" fill="#000" stroke="#000" stroke-width="0.8"/>
<path d="M1371.5,1782.4 L1354.5,1777.8000000000002 L1355.5,1782.4 L1354.5,1787.0 Z" fill="#000" stroke="#000" stroke-width="0.8"/>
<circle cx="775.3" cy="1782.6" r="21" stroke-width="2.9" fill="#fff"/>
<text x="775.3" y="1792.1999999999998" text-anchor="middle" font-family="Liberation Sans" font-weight="bold" font-size="27" fill="#000" stroke="none">7</text>
<path d="M134,1075.6 L162.5,1103.8" stroke-width="2"/>
<circle cx="118.4" cy="1060.9" r="21" stroke-width="2.9" fill="#fff"/>
<text x="118.4" y="1070.5" text-anchor="middle" font-family="Liberation Sans" font-weight="bold" font-size="27" fill="#000" stroke="none">5</text>
<path d="M1421.9,1083 L1393.5,1111.4" stroke-width="2"/>
<circle cx="1436.3" cy="1068.2" r="21" stroke-width="2.9" fill="#fff"/>
<text x="1436.3" y="1077.8" text-anchor="middle" font-family="Liberation Sans" font-weight="bold" font-size="27" fill="#000" stroke="none">5</text>
</svg>
</body></html>
